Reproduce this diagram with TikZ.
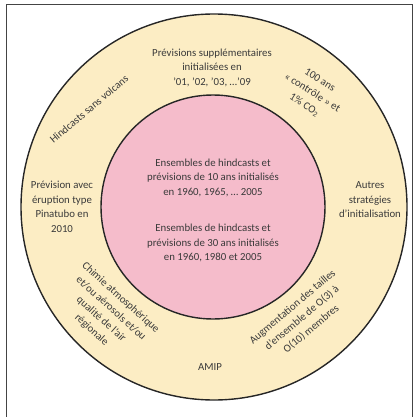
\documentclass[tikz,border=0pt]{standalone}
\usepackage{fontspec}
\setmainfont{Carlito}
\definecolor{ringfill}{HTML}{FCEDC4}
\definecolor{corefill}{HTML}{F5BCCB}
\definecolor{txt}{HTML}{3A3A3A}
\definecolor{framecol}{HTML}{444444}
\begin{document}
\begin{tikzpicture}[x=1pt,y=-1pt,
  lbl/.style={text=txt,font=\fontsize{10.8}{14.5}\selectfont,align=center,inner sep=0pt},
  ring/.style={draw=black!85,line width=1.4pt}]
\useasboundingbox (0,0) rectangle (415,417);
\draw[framecol,line width=1pt] (6,417) -- (6,4.5) -- (412,4.5) -- (412,417);
\node[ring,circle,fill=ringfill,minimum size=386pt,inner sep=0pt] (outer) at (214,207) {};
\node[ring,circle,fill=corefill,minimum size=224pt,inner sep=0pt] (core) at (213,207) {};
\node[lbl] (top) at (212,67.5) {Prévisions supplémentaires\\initialisées en\\’01, ’02, ’03, …’09};
\node[lbl] (c1) at (213,177.5) {Ensembles de hindcasts et\\prévisions de 10 ans initialisés\\en 1960, 1965, … 2005};
\node[lbl] (c2) at (213,243) {Ensembles de hindcasts et\\prévisions de 30 ans initialisés\\en 1960, 1980 et 2005};
\node[lbl] (left) at (62,207) {Prévision avec\\éruption type\\Pinatubo en\\2010};
\node[lbl] (right) at (370,200) {Autres\\stratégies\\d’initialisation};
\node[lbl] (amip) at (210,367) {AMIP};
\node[lbl,rotate=40] (hind) at (89,109) {Hindcasts sans volcans};
\node[lbl,rotate=-32] (ctrl) at (312,93) {100 ans\\« contrôle » et\\1\% CO\textsubscript{2}};
\node[lbl,rotate=-42] (chem) at (106,314) {Chimie atmosphérique\\et/ou aérosols et/ou\\qualité de l’air\\régionale};
\node[lbl,rotate=40] (ens) at (302,318) {Augmentation des tailles\\d’ensemble de O(3) à\\O(10) membres};
\end{tikzpicture}
\end{document}
